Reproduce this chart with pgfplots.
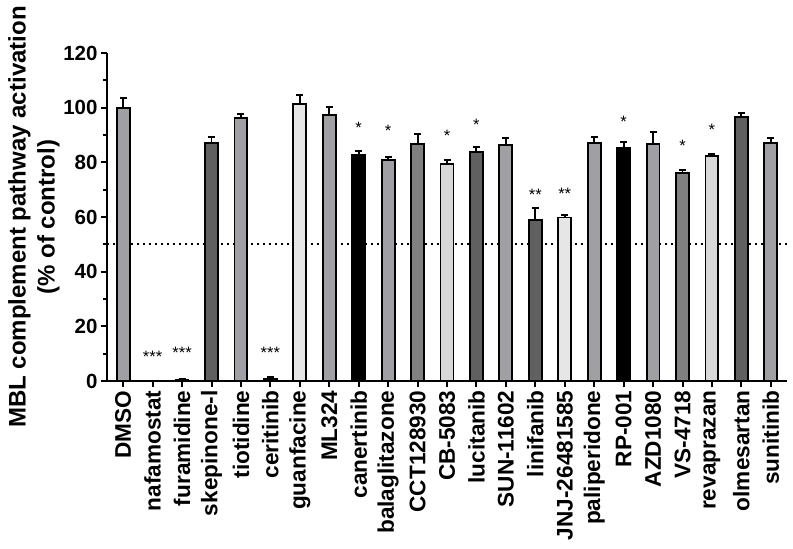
\documentclass[border=0pt]{standalone}
\usepackage{pgfplots}
\pgfplotsset{compat=1.18}
\usepackage{fontspec}
\setmainfont{Liberation Sans}
\definecolor{gmid}{RGB}{160,160,164}
\definecolor{gdark}{RGB}{96,96,96}
\definecolor{gmd}{RGB}{128,128,128}
\definecolor{glight}{RGB}{216,216,216}
\definecolor{gvlight}{RGB}{230,230,230}
\pgfplotstableread{
x y e
0 100.0 3.7
2 0.4 0.2
4 96.2 1.6
7 97.2 2.9
9 80.9 1.0
13 86.3 2.5
16 87.1 2.2
18 86.6 4.5
22 87.1 1.8
}\tmid
\pgfplotstableread{
x y e
3 87.0 2.2
12 83.7 1.8
14 59.0 4.2
21 96.6 1.5
}\tdark
\pgfplotstableread{
x y e
10 86.6 3.7
19 76.0 1.1
}\tmd
\pgfplotstableread{
x y e
11 79.3 1.6
20 82.4 0.5
}\tlight
\pgfplotstableread{
x y e
1 0.1 0.0
6 101.2 3.4
15 59.8 0.9
}\tvlight
\pgfplotstableread{
x y e
5 0.7 0.7
8 82.6 1.6
17 85.1 2.2
}\tblack
\pgfplotstableread{
x y s
1 6.9 ***
2 8.2 ***
5 8.2 ***
8 90.5 *
9 89.3 *
11 87.5 *
12 91.6 *
14 66.1 **
15 66.5 **
17 92.6 *
19 84.0 *
20 89.8 *
}\tstars
\pgfplotsset{
  mybar/.style={ybar, bar width=0.44, bar shift=0pt, draw=black, line width=1.9pt, fill=#1,
    error bars/.cd, y dir=plus, y explicit,
    error bar style={line width=1.9pt, black},
    error mark options={rotate=90, mark size=3.5pt, line width=1.9pt, black}},
}
\begin{document}
\begin{tikzpicture}
\begin{axis}[
  name=ax,
  scale only axis, width=680pt, height=328pt,
  xmin=-0.55, xmax=22.55, ymin=0, ymax=120,
  axis x line=bottom, axis y line=left,
  axis line style={line width=2.3pt, -},
  ytick={0,20,...,120}, minor y tick num=1,
  xtick={0,...,22},
  xticklabels={DMSO,nafamostat,furamidine,skepinone-l,tiotidine,ceritinib,guanfacine,ML324,canertinib,balaglitazone,CCT128930,CB-5083,lucitanib,SUN-11602,linifanib,JNJ-26481585,paliperidone,RP-001,AZD1080,VS-4718,revaprazan,olmesartan,sunitinib},
  tick align=outside, major tick length=6pt, minor tick length=4pt,
  tick style={line width=2pt, black},
  x tick label style={rotate=90, anchor=east, font=\fontsize{22.6}{26}\selectfont\bfseries},
  y tick label style={font=\fontsize{20.5}{24}\selectfont\bfseries},
  /pgf/number format/assume math mode=true,
  ylabel={MBL complement pathway activation\\(\% of control)},
  ylabel style={align=center, font=\fontsize{24}{29}\selectfont\bfseries, at={(axis description cs:-0.1074,0.5)}, anchor=center},
  clip=false,
]
\addplot[forget plot, line width=1.7pt, dash pattern=on 1.7pt off 4.3pt] coordinates {(-0.55,50) (22.55,50)};
\addplot[mybar=gmid] table[x=x, y=y, y error=e] {\tmid};
\addplot[mybar=gdark] table[x=x, y=y, y error=e] {\tdark};
\addplot[mybar=gmd] table[x=x, y=y, y error=e] {\tmd};
\addplot[mybar=glight] table[x=x, y=y, y error=e] {\tlight};
\addplot[mybar=gvlight] table[x=x, y=y, y error=e] {\tvlight};
\addplot[mybar=black] table[x=x, y=y, y error=e] {\tblack};
\addplot[draw=none, mark=none, nodes near coords, point meta=explicit symbolic,
  nodes near coords align={anchor=base},
  every node near coord/.append style={anchor=base, inner sep=0pt, font=\fontsize{16.5}{16}\selectfont}]
  table[x=x, y=y, meta=s] {\tstars};
\end{axis}
\pgfresetboundingbox
\path ([shift={(-107pt,-168pt)}]ax.south west) rectangle ([shift={(6pt,53pt)}]ax.north east);
\end{tikzpicture}
\end{document}
